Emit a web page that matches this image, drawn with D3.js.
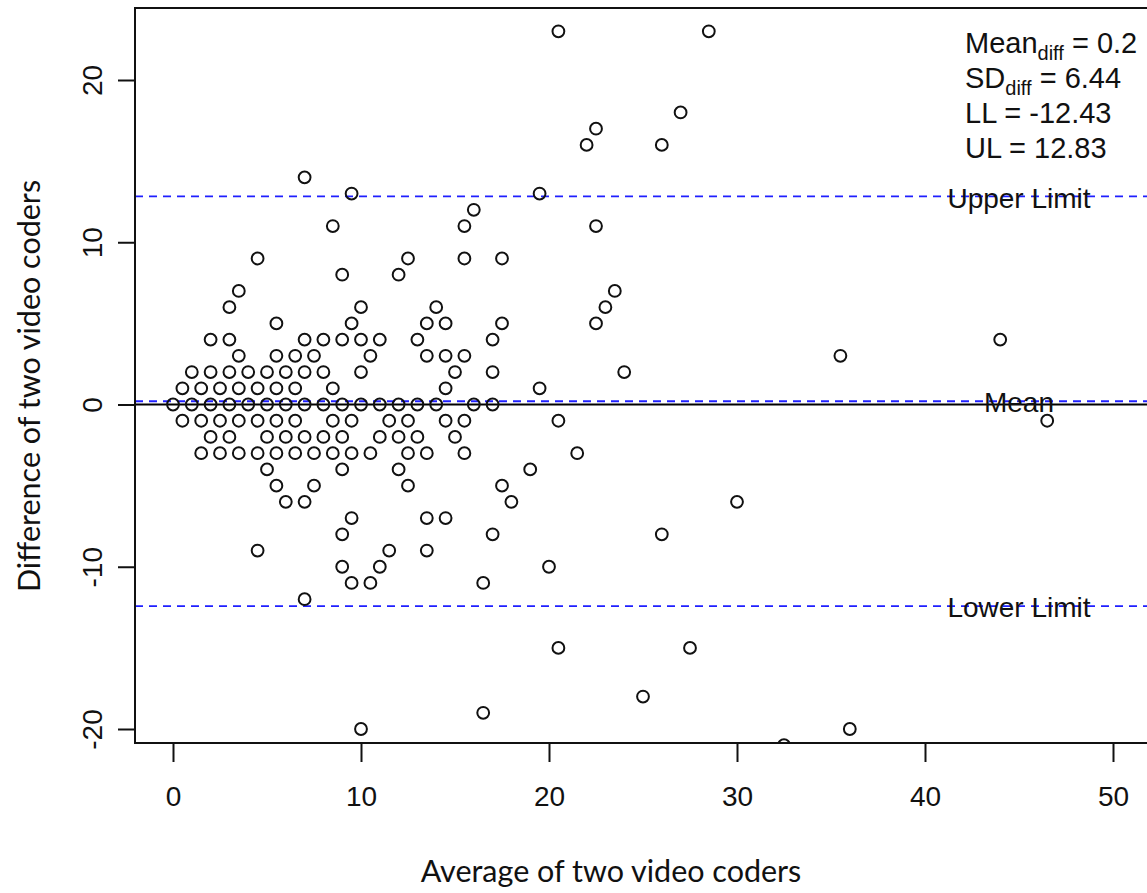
<!DOCTYPE html>
<html>
<head>
<meta charset="utf-8">
<script src="https://cdn.jsdelivr.net/npm/d3@7"></script>
<style>
  html, body { margin: 0; padding: 0; background: #fff; }
  svg { display: block; }
</style>
</head>
<body>
<script>
// ---- data (average of two coders, difference of two coders), grouped by difference level ----
const avgValues = [
  20.5, 28.5,                                   // 23
  27,                                           // 18
  22.5,                                         // 17
  22, 26,                                       // 16
  7,                                            // 14
  9.5, 19.5,                                    // 13
  16,                                           // 12
  8.5, 15.5, 22.5,                              // 11
  4.5, 12.5, 15.5, 17.5,                        // 9
  9, 12,                                        // 8
  3.5, 23.5,                                    // 7
  3, 10, 14, 23,                                // 6
  5.5, 9.5, 13.5, 14.5, 17.5, 22.5,             // 5
  2, 3, 7, 8, 9, 10, 11, 13, 17, 44,            // 4
  3.5, 5.5, 6.5, 7.5, 10.5, 13.5, 14.5, 15.5, 35.5, // 3
  1, 2, 3, 4, 5, 6, 7, 8, 10, 15, 17, 24,       // 2
  0.5, 1.5, 2.5, 3.5, 4.5, 5.5, 6.5, 8.5, 14.5, 19.5, // 1
  0, 1, 2, 3, 4, 5, 6, 7, 8, 9, 10, 11, 12, 13, 14, 16, 17, // 0
  0.5, 1.5, 2.5, 3.5, 4.5, 5.5, 6.5, 8.5, 9.5, 11.5, 12.5, 14.5, 15.5, 20.5, 46.5, // -1
  2, 3, 5, 6, 7, 8, 9, 11, 12, 13, 15,          // -2
  1.5, 2.5, 3.5, 4.5, 5.5, 6.5, 7.5, 8.5, 9.5, 10.5, 12.5, 13.5, 15.5, 21.5, // -3
  5, 9, 12, 19,                                 // -4
  5.5, 7.5, 12.5, 17.5,                         // -5
  6, 7, 18, 30,                                 // -6
  9.5, 13.5, 14.5,                              // -7
  9, 17, 26,                                    // -8
  4.5, 11.5, 13.5,                              // -9
  9, 11, 20,                                    // -10
  9.5, 10.5, 16.5,                              // -11
  7,                                            // -12
  20.5, 27.5,                                   // -15
  25,                                           // -18
  16.5,                                         // -19
  10, 36,                                       // -20
  32.5                                          // -21
];
const diffValues = [
  23, 23,
  18,
  17,
  16, 16,
  14,
  13, 13,
  12,
  11, 11, 11,
  9, 9, 9, 9,
  8, 8,
  7, 7,
  6, 6, 6, 6,
  5, 5, 5, 5, 5, 5,
  4, 4, 4, 4, 4, 4, 4, 4, 4, 4,
  3, 3, 3, 3, 3, 3, 3, 3, 3,
  2, 2, 2, 2, 2, 2, 2, 2, 2, 2, 2, 2,
  1, 1, 1, 1, 1, 1, 1, 1, 1, 1,
  0, 0, 0, 0, 0, 0, 0, 0, 0, 0, 0, 0, 0, 0, 0, 0, 0,
  -1, -1, -1, -1, -1, -1, -1, -1, -1, -1, -1, -1, -1, -1, -1,
  -2, -2, -2, -2, -2, -2, -2, -2, -2, -2, -2,
  -3, -3, -3, -3, -3, -3, -3, -3, -3, -3, -3, -3, -3, -3,
  -4, -4, -4, -4,
  -5, -5, -5, -5,
  -6, -6, -6, -6,
  -7, -7, -7,
  -8, -8, -8,
  -9, -9, -9,
  -10, -10, -10,
  -11, -11, -11,
  -12,
  -15, -15,
  -18,
  -19,
  -20, -20,
  -21
];
const meanDiff = 0.2;
const sdDiff = 6.44;
const lowerLimit = -12.43;
const upperLimit = 12.83;
const xTicks = [0, 10, 20, 30, 40, 50];
const yTicks = [-20, -10, 0, 10, 20];
const xTitle = "Average of two video coders";
const yTitle = "Difference of two video coders";
const lineLabels = ["Upper Limit", "Mean", "Lower Limit"];
const labelX = 45;

// ---- layout ----
const W = 1147, H = 893;
const plot = { left: 135, top: 8, bottom: 743, right: 1200 };
const sansFont = "'Liberation Sans', Arial, Helvetica, sans-serif";
const titleFont = "Lato, 'Open Sans', sans-serif";

const svg = d3.select("body").append("svg")
  .attr("width", W).attr("height", H)
  .attr("viewBox", `0 0 ${W} ${H}`);

const x = d3.scaleLinear().domain([0, 50]).range([173, 1113]);
const y = d3.scaleLinear().domain([-20, 20]).range([729, 80]);

svg.append("defs").append("clipPath").attr("id", "plotclip")
  .append("rect")
  .attr("x", plot.left).attr("y", plot.top)
  .attr("width", plot.right - plot.left).attr("height", plot.bottom - plot.top);

const inner = svg.append("g").attr("clip-path", "url(#plotclip)");

// zero line
inner.append("line")
  .attr("x1", plot.left).attr("x2", plot.right)
  .attr("y1", y(0)).attr("y2", y(0))
  .attr("stroke", "#000").attr("stroke-width", 1.8);

// mean / limits dashed lines
inner.selectAll("line.lim")
  .data([upperLimit, meanDiff, lowerLimit])
  .join("line")
  .attr("class", "lim")
  .attr("x1", plot.left).attr("x2", plot.right)
  .attr("y1", d => y(d)).attr("y2", d => y(d))
  .attr("stroke", "#1f1fff").attr("stroke-width", 1.8)
  .attr("stroke-dasharray", "8,6");

// points
const pts = avgValues.map((a, i) => ({ a, d: diffValues[i] }));
inner.selectAll("circle.pt")
  .data(pts)
  .join("circle")
  .attr("class", "pt")
  .attr("cx", d => x(d.a))
  .attr("cy", d => y(d.d))
  .attr("r", 5.9)
  .attr("fill", "none")
  .attr("stroke", "#111")
  .attr("stroke-width", 2);

// line labels
inner.selectAll("text.linelab")
  .data([upperLimit, meanDiff, lowerLimit])
  .join("text")
  .attr("class", "linelab")
  .attr("x", x(labelX))
  .attr("y", d => y(d))
  .attr("dy", "0.4em")
  .attr("text-anchor", "middle")
  .attr("font-family", sansFont)
  .attr("font-size", 28)
  .attr("fill", "#111")
  .text((d, i) => lineLabels[i]);

// frame
svg.append("path")
  .attr("d", `M${plot.right},${plot.top} H${plot.left} V${plot.bottom} H${plot.right}`)
  .attr("fill", "none").attr("stroke", "#111").attr("stroke-width", 2);

// axes
const fmt = d => String(d);
const xAxis = svg.append("g")
  .attr("transform", `translate(0,${plot.bottom})`)
  .call(d3.axisBottom(x).tickValues(xTicks).tickFormat(fmt).tickSize(19).tickPadding(24).tickSizeOuter(0));
const yAxis = svg.append("g")
  .attr("transform", `translate(${plot.left},0)`)
  .call(d3.axisLeft(y).tickValues(yTicks).tickFormat(fmt).tickSize(17).tickPadding(0).tickSizeOuter(0));

[xAxis, yAxis].forEach(g => {
  g.select(".domain").remove();
  g.selectAll(".tick line").attr("stroke", "#111").attr("stroke-width", 2);
  g.selectAll(".tick text")
    .attr("font-family", sansFont)
    .attr("font-size", 28)
    .attr("fill", "#111");
});
xAxis.selectAll(".tick text").attr("dy", "0.71em");
yAxis.selectAll(".tick text")
  .attr("x", null).attr("dy", null)
  .attr("text-anchor", "middle")
  .attr("transform", "translate(-43,0) rotate(-90)")
  .attr("y", 0)
  .attr("dominant-baseline", "central");

// axis titles
svg.append("text")
  .attr("x", 611).attr("y", 882)
  .attr("text-anchor", "middle")
  .attr("font-family", titleFont)
  .attr("font-size", 30.5)
  .attr("fill", "#111")
  .text(xTitle);

svg.append("text")
  .attr("transform", `translate(40,386) rotate(-90)`)
  .attr("text-anchor", "middle")
  .attr("font-family", titleFont)
  .attr("font-size", 30.5)
  .attr("fill", "#111")
  .text(yTitle);

// stats block
const stats = [
  { main: "Mean", sub: "diff", rest: " = " + meanDiff },
  { main: "SD", sub: "diff", rest: " = " + sdDiff },
  { main: "LL = " + lowerLimit, sub: null, rest: "" },
  { main: "UL = " + upperLimit, sub: null, rest: "" }
];
const statG = svg.append("g")
  .attr("font-family", sansFont)
  .attr("fill", "#111");
stats.forEach((s, i) => {
  const t = statG.append("text")
    .attr("x", 965).attr("y", 53 + i * 35)
    .attr("font-size", 29);
  t.append("tspan").text(s.main);
  if (s.sub) {
    t.append("tspan").attr("font-size", 20).attr("dy", 7).text(s.sub);
    t.append("tspan").attr("dy", -7).text(s.rest);
  }
});
</script>
</body>
</html>
